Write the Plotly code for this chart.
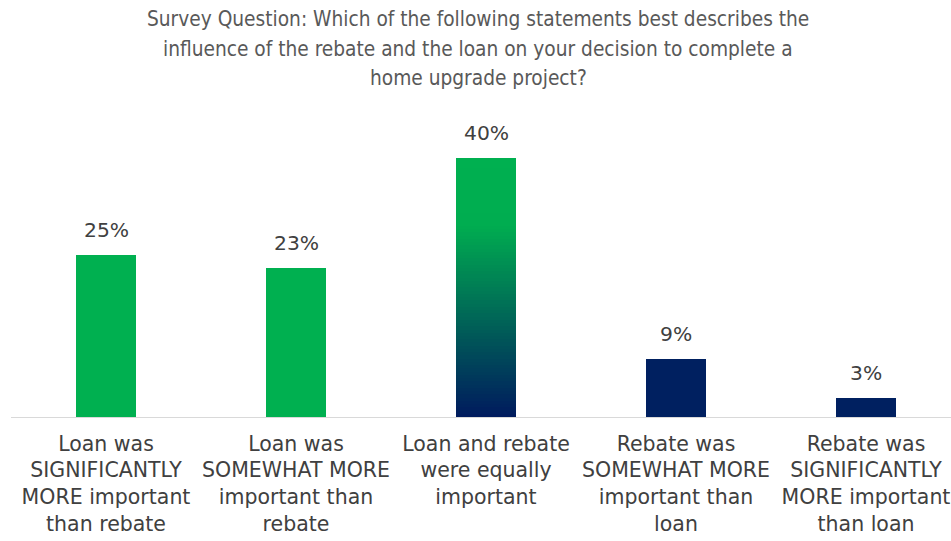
import plotly.graph_objects as go

# Survey responses
categories = [
    "Loan was<br>SIGNIFICANTLY<br>MORE important<br>than rebate",
    "Loan was<br>SOMEWHAT MORE<br>important than<br>rebate",
    "Loan and rebate<br>were equally<br>important",
    "Rebate was<br>SOMEWHAT MORE<br>important than<br>loan",
    "Rebate was<br>SIGNIFICANTLY<br>MORE important<br>than loan",
]
values = [25, 23, 40, 9, 3]
labels = ["25%", "23%", "40%", "9%", "3%"]
bar_colors = ["#00B050", "#00B050", "#002060", "#002060", "#002060"]

title_lines = [
    "Survey Question: Which of the following statements best describes the",
    "influence of the rebate and the loan on your decision to complete a",
    "home upgrade project?",
]

# Gradient for the "equally important" bar: (fraction from bottom, colour)
gradient_stops = [(0.0, (0x00, 0x1A, 0x5E)), (0.74, (0x00, 0xAD, 0x50)), (1.0, (0x00, 0xB0, 0x50))]
gradient_index = 2

TEXT = "#404040"
FONT = "DejaVu Sans"


def gradient_color(f):
    for (p0, c0), (p1, c1) in zip(gradient_stops, gradient_stops[1:]):
        if p0 <= f <= p1:
            t = (f - p0) / (p1 - p0) if p1 > p0 else 0
            r, g, b = (round(a + (bb - a) * t) for a, bb in zip(c0, c1))
            return f"rgb({r},{g},{b})"
    r, g, b = gradient_stops[-1][1]
    return f"rgb({r},{g},{b})"


xs = list(range(len(categories)))
fig = go.Figure()

fig.add_trace(go.Bar(
    x=xs, y=values, width=0.316,
    marker=dict(color=bar_colors, line=dict(width=0)),
    hoverinfo="skip",
))

# Gradient bar built from thin stacked slices
n_slices = 80
gv = values[gradient_index]
step = gv / n_slices
bases = [i * step for i in range(n_slices)]
heights = [min(2 * step, gv - b) for b in bases]
seg_colors = [gradient_color((b + step / 2) / gv) for b in bases]
fig.add_trace(go.Bar(
    x=[gradient_index] * n_slices, y=heights, base=bases, width=0.316,
    marker=dict(color=seg_colors, line=dict(width=0)),
    hoverinfo="skip",
))

for x, v, lab in zip(xs, values, labels):
    fig.add_annotation(
        x=x, y=v, text=lab, showarrow=False, yanchor="bottom", yshift=11,
        font=dict(family=FONT, size=20.3, color=TEXT),
    )

px_per_unit = 6.48
plot_h = 297

# Chart title, one line per annotation for even line spacing
title_top = 120 - 19  # centre of first line, pixels from top
for i, line in enumerate(title_lines):
    fig.add_annotation(
        text=line, xref="paper", yref="paper", x=0.497,
        y=1 + (title_top - i * 29.5) / plot_h,
        xanchor="center", yanchor="middle", showarrow=False,
        font=dict(family="DejaVu Sans Condensed, Roboto", size=20.7, color="#595959"),
    )

fig.update_layout(
    width=951, height=541,
    margin=dict(l=11, r=0, t=120, b=124),
    paper_bgcolor="white", plot_bgcolor="white",
    barmode="overlay", showlegend=False, bargap=0,
    xaxis=dict(
        tickmode="array", tickvals=xs, ticktext=categories,
        range=[-0.5, -0.5 + 940 / 190],
        showline=True, linecolor="#D9D9D9", linewidth=1,
        showgrid=False, zeroline=False, ticks="",
        ticklabelstandoff=8,
        tickfont=dict(family=FONT, size=20.5, color=TEXT),
    ),
    yaxis=dict(
        range=[0, plot_h / px_per_unit], visible=False,
        showgrid=False, zeroline=False,
    ),
)

fig.write_html("out.html")
